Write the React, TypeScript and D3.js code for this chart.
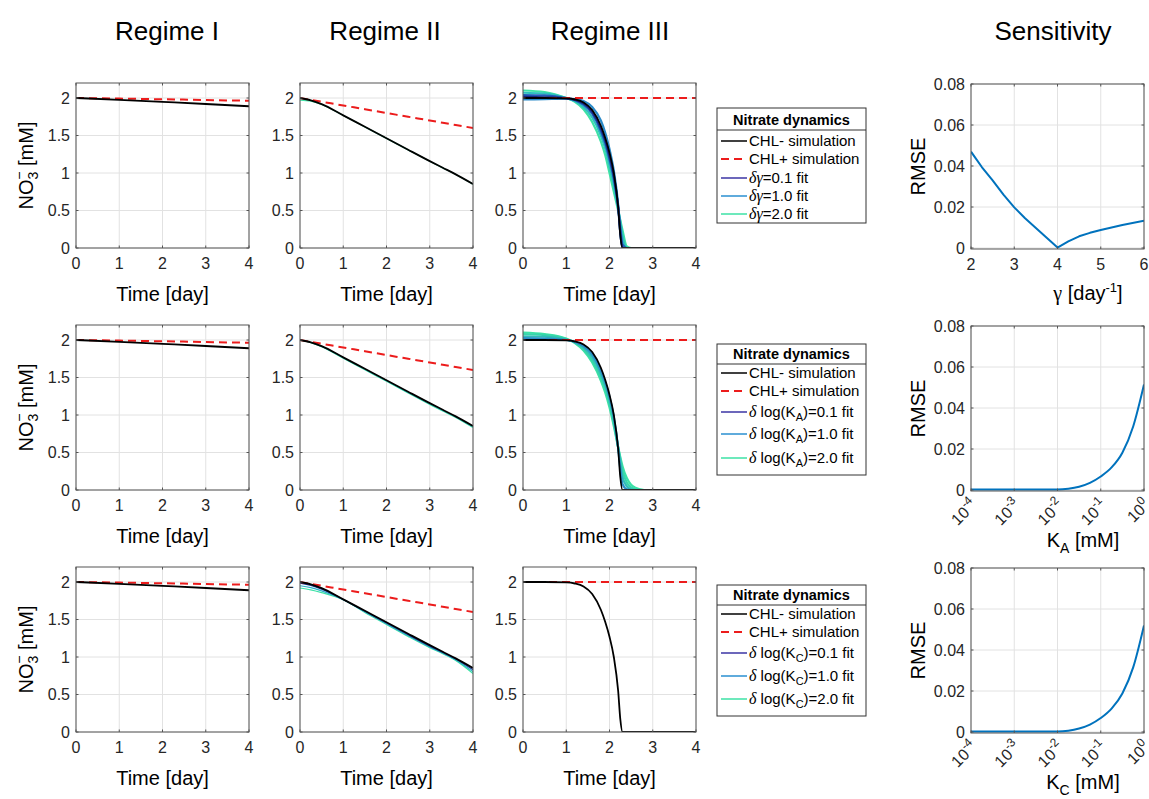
import React from 'react';
import * as d3 from 'd3';

const W = 1149, H = 799;
const FONT = '"Liberation Sans", Arial, Helvetica, sans-serif';
const SERIF = '"Liberation Serif", "DejaVu Serif", serif';

// ---------------- DATA ----------------
const TITLES = ['Regime I', 'Regime II', 'Regime III', 'Sensitivity'];
const REGIME_X_TICKS = [0, 1, 2, 3, 4];
const REGIME_Y_TICKS = [0, 0.5, 1, 1.5, 2];
const SENS_Y_TICKS = [0, 0.02, 0.04, 0.06, 0.08];
const GAMMA_TICKS = [2, 3, 4, 5, 6];
const K_TICKS = [1e-4, 1e-3, 1e-2, 1e-1, 1];
const K_TICK_EXP = ['-4', '-3', '-2', '-1', '0'];

// Regime I
const TIME_I = [0, 1, 2, 3, 4];
const I_CHLM = [2.0, 1.975, 1.948, 1.92, 1.89];
const I_CHLP = [2.0, 1.992, 1.983, 1.973, 1.963];

// Regime II
const TIME_II = [0, 0.25, 0.5, 1, 1.5, 2, 2.5, 3, 3.3, 3.6, 4];
const II_CHLM = [2.0, 1.968, 1.918, 1.768, 1.616, 1.464, 1.31, 1.158, 1.07, 0.982, 0.853];
const II_CHLP = [2.0, 1.975, 1.95, 1.9, 1.85, 1.8, 1.75, 1.7, 1.67, 1.64, 1.6];
const II_FIT_G_GREEN = [1.972, 1.958, 1.914, 1.766, 1.614, 1.462, 1.308, 1.156, 1.068, 0.98, 0.851];
const II_FIT_KA_GREEN = [2.0, 1.964, 1.91, 1.758, 1.603, 1.449, 1.293, 1.14, 1.054, 0.967, 0.832];
const II_FIT_KA_TEAL = [2.0, 1.966, 1.914, 1.763, 1.609, 1.456, 1.301, 1.149, 1.062, 0.974, 0.842];
const II_FIT_KC_GREEN = [1.92, 1.895, 1.858, 1.763, 1.594, 1.434, 1.275, 1.125, 1.045, 0.955, 0.78];
const II_FIT_KC_TEAL = [1.95, 1.925, 1.882, 1.765, 1.602, 1.444, 1.286, 1.135, 1.053, 0.964, 0.805];
const II_FIT_KC_BLUE = [1.985, 1.955, 1.905, 1.767, 1.609, 1.453, 1.296, 1.145, 1.061, 0.973, 0.83];

// Regime III
const TIME_III = [0, 0.5, 1.0, 1.2, 1.4, 1.6, 1.8, 1.9, 2.0, 2.1, 2.2, 2.25, 2.3, 2.4, 2.5, 2.6, 2.8, 3.0, 4.0];
const III_CHLM = [2.0, 2.0, 1.995, 1.98, 1.94, 1.84, 1.63, 1.47, 1.27, 1.0, 0.55, 0.17, 0, 0, 0, 0, 0, 0, 0];
const TIME_III_P = [0, 4];
const III_CHLP = [2.0, 2.0];
const III_FIT_G1 = [2.1, 2.08, 2.0, 1.95, 1.85, 1.68, 1.42, 1.24, 1.0, 0.75, 0.5, 0.37, 0.24, 0.02, 0, 0, 0, 0, 0];
const III_FIT_G2 = [2.07, 2.06, 2.0, 1.96, 1.88, 1.74, 1.5, 1.33, 1.1, 0.84, 0.53, 0.35, 0.16, 0, 0, 0, 0, 0, 0];
const III_FIT_G3 = [2.04, 2.035, 1.998, 1.97, 1.91, 1.79, 1.56, 1.4, 1.18, 0.92, 0.55, 0.27, 0.05, 0, 0, 0, 0, 0, 0];
const III_FIT_G4 = [2.015, 2.01, 1.996, 1.978, 1.93, 1.82, 1.6, 1.44, 1.23, 0.96, 0.55, 0.2, 0, 0, 0, 0, 0, 0, 0];
const III_FIT_G5 = [1.98, 1.985, 1.99, 1.985, 1.96, 1.88, 1.7, 1.54, 1.32, 1.03, 0.58, 0.2, 0, 0, 0, 0, 0, 0, 0];
const III_FIT_K1 = [2.1, 2.08, 2.02, 1.96, 1.86, 1.7, 1.46, 1.3, 1.1, 0.85, 0.57, 0.44, 0.32, 0.16, 0.07, 0.03, 0, 0, 0];
const III_FIT_K2 = [2.08, 2.065, 2.012, 1.965, 1.88, 1.73, 1.5, 1.35, 1.15, 0.89, 0.57, 0.41, 0.26, 0.1, 0.035, 0.01, 0, 0, 0];
const III_FIT_K3 = [2.05, 2.045, 2.005, 1.97, 1.9, 1.77, 1.55, 1.4, 1.2, 0.94, 0.565, 0.36, 0.18, 0.05, 0.01, 0, 0, 0, 0];
const III_FIT_K4 = [2.025, 2.02, 2.0, 1.975, 1.92, 1.81, 1.59, 1.44, 1.24, 0.97, 0.56, 0.28, 0.08, 0.01, 0, 0, 0, 0, 0];

// Sensitivity
const GAMMA = [2, 2.25, 2.5, 2.75, 3, 3.25, 3.5, 3.75, 4, 4.25, 4.5, 4.75, 5, 5.5, 6];
const RMSE_GAMMA = [0.047, 0.0395, 0.033, 0.026, 0.0198, 0.0145, 0.0098, 0.005, 0.0002, 0.0032, 0.0057, 0.0074, 0.0088, 0.0112, 0.0133];
const KX = [1e-4, 1e-3, 1e-2, 0.0178, 0.0316, 0.0562, 0.1, 0.178, 0.316, 0.562, 1];
const RMSE_KA = [0.0003, 0.0003, 0.0002, 0.0006, 0.0016, 0.0035, 0.0066, 0.011, 0.0182, 0.031, 0.0515];
const RMSE_KC = [0.0003, 0.0003, 0.0002, 0.0006, 0.0017, 0.0036, 0.0068, 0.0114, 0.0188, 0.0315, 0.052];

// ---------------- STYLE / LAYOUT ----------------
const COL_X = [76, 300, 523];
const ROW_Y = [83, 325, 567];
const PW = 173, PH = 165;
const SENS_X = 971;
const C_BLACK = '#000000';
const C_RED = '#ec1c1c';
const C_BLUE = '#0072BD';
const C01 = '#3b34a5';
const C10 = '#2a8fd0';
const C20 = '#3de2a6';
const GRID = '#e2e2e2';
const AXIS = '#555555';

type Series = { x: number[]; y: number[]; color: string; width: number; dash?: string; curve?: any };

function pathOf(s: Series, xs: any, ys: any) {
  const pts = s.x.map((v, i) => [v, s.y[i]] as [number, number]);
  return d3.line<[number, number]>()
    .x(d => xs(d[0]))
    .y(d => ys(d[1]))
    .curve(s.curve || d3.curveMonotoneX)(pts) || '';
}

function Panel(props: any) {
  const { id, x0, y0, xs, ys, xTicks, yTicks, yFmt, logX, series } = props;
  const w = PW, h = PH;
  const x1 = x0 + w, y1 = y0 + h;
  const tl = 2.5;
  return (
    <g>
      <defs>
        <clipPath id={id}><rect x={x0} y={y0} width={w} height={h} /></clipPath>
      </defs>
      <rect x={x0} y={y0} width={w} height={h} fill="#fff" />
      {xTicks.map((t: number, i: number) => (
        <line key={'gx' + i} x1={xs(t)} x2={xs(t)} y1={y0} y2={y1} stroke={GRID} strokeWidth={1} />
      ))}
      {yTicks.map((t: number, i: number) => (
        <line key={'gy' + i} x1={x0} x2={x1} y1={ys(t)} y2={ys(t)} stroke={GRID} strokeWidth={1} />
      ))}
      <g clipPath={`url(#${id})`}>
        {series.map((s: Series, i: number) => (
          <path key={i} d={pathOf(s, xs, ys)} fill="none" stroke={s.color} strokeWidth={s.width}
            strokeDasharray={s.dash} strokeLinejoin="round" />
        ))}
      </g>
      <rect x={x0} y={y0} width={w} height={h} fill="none" stroke={AXIS} strokeWidth={1} />
      {xTicks.map((t: number, i: number) => (
        <g key={'tx' + i}>
          <line x1={xs(t)} x2={xs(t)} y1={y1} y2={y1 - tl} stroke={AXIS} />
          <line x1={xs(t)} x2={xs(t)} y1={y0} y2={y0 + tl} stroke={AXIS} />
        </g>
      ))}
      {yTicks.map((t: number, i: number) => (
        <g key={'ty' + i}>
          <line x1={x0} x2={x0 + tl} y1={ys(t)} y2={ys(t)} stroke={AXIS} />
          <line x1={x1} x2={x1 - tl} y1={ys(t)} y2={ys(t)} stroke={AXIS} />
        </g>
      ))}
      {yTicks.map((t: number, i: number) => (
        <text key={'ly' + i} x={x0 - 6} y={ys(t) + 5.5} textAnchor="end" fontSize={16} fill="#262626">{yFmt(t)}</text>
      ))}
      {!logX && xTicks.map((t: number, i: number) => (
        <text key={'lx' + i} x={xs(t)} y={y1 + 21} textAnchor="middle" fontSize={16} fill="#262626">{String(t)}</text>
      ))}
      {logX && xTicks.map((t: number, i: number) => (
        <text key={'lx' + i} transform={`translate(${xs(t) + 7},${y1 + 15}) rotate(-45)`} textAnchor="end" fontSize={16} fill="#262626">
          10<tspan dy={-7} fontSize={12}>{K_TICK_EXP[i]}</tspan>
        </text>
      ))}
    </g>
  );
}

function Legend(props: any) {
  const { x, y, h, sep, titleY, entries } = props;
  const w = 149;
  return (
    <g>
      <rect x={x} y={y} width={w} height={h} fill="#fff" stroke="#333" strokeWidth={1} />
      <line x1={x} x2={x + w} y1={y + sep} y2={y + sep} stroke="#333" strokeWidth={1} />
      <text x={x + w / 2} y={y + titleY} textAnchor="middle" fontSize={14.5} fontWeight="bold" fill="#000">Nitrate dynamics</text>
      {entries.map((e: any, i: number) => (
        <g key={i}>
          <line x1={x + 4} x2={x + 30} y1={y + e.cy} y2={y + e.cy} stroke={e.color}
            strokeWidth={e.dash ? 2 : 1.5} strokeDasharray={e.dash ? '8,5' : undefined} />
          <text x={x + 32} y={y + e.cy + 5} fontSize={15} fill="#000">{e.label}</text>
        </g>
      ))}
    </g>
  );
}

const dg = (v: string) => (<><tspan fontFamily={SERIF} fontStyle="italic" fontSize={16}>δγ</tspan>={v} fit</>);
const dk = (sub: string, v: string) => (
  <><tspan fontFamily={SERIF} fontStyle="italic" fontSize={16}>δ</tspan> log(K<tspan dy={4} fontSize={11}>{sub}</tspan><tspan dy={-4}>)={v} fit</tspan></>
);

export default function App() {
  const fmtY = (t: number) => String(t);
  const fmtS = (t: number) => (t === 0 ? '0' : t.toFixed(2));
  const panels: any[] = [];

  const rowFitsIII = [
    [
      { y: III_FIT_G1, c: C20 }, { y: III_FIT_G5, c: '#2a8ac8' }, { y: III_FIT_G2, c: '#2cbfbf' },
      { y: III_FIT_G3, c: '#1d5fb8' }, { y: III_FIT_G4, c: '#1a2585' },
    ],
    [
      { y: III_FIT_K1, c: C20 }, { y: III_FIT_K2, c: '#37d6aa' }, { y: III_FIT_K3, c: '#30bdb6' },
      { y: III_FIT_K4, c: '#2a8fc8' },
    ],
    [],
  ];
  const rowFitsII = [
    [{ y: II_FIT_G_GREEN, c: C20 }],
    [{ y: II_FIT_KA_GREEN, c: C20 }, { y: II_FIT_KA_TEAL, c: '#2cc0c0' }],
    [{ y: II_FIT_KC_GREEN, c: C20 }, { y: II_FIT_KC_TEAL, c: '#2cb0c8' }, { y: II_FIT_KC_BLUE, c: '#1c3a9a' }],
  ];

  for (let r = 0; r < 3; r++) {
    for (let c = 0; c < 3; c++) {
      const x0 = COL_X[c], y0 = ROW_Y[r];
      const xs = d3.scaleLinear().domain([0, 4]).range([x0, x0 + PW]);
      const ys = d3.scaleLinear().domain([0, 2.2]).range([y0 + PH, y0]);
      let series: Series[] = [];
      if (c === 0) {
        series = [
          { x: TIME_I, y: I_CHLP, color: C_RED, width: 2, dash: '8,5' },
          { x: TIME_I, y: I_CHLM, color: C_BLACK, width: 1.8 },
        ];
      } else if (c === 1) {
        series = [
          ...rowFitsII[r].map(f => ({ x: TIME_II, y: f.y, color: f.c, width: 1.2 })),
          { x: TIME_II, y: II_CHLP, color: C_RED, width: 2, dash: '8,5' },
          { x: TIME_II, y: II_CHLM, color: C_BLACK, width: 1.8 },
        ];
      } else {
        series = [
          ...rowFitsIII[r].map(f => ({ x: TIME_III, y: f.y, color: f.c, width: 2.2 })),
          { x: TIME_III_P, y: III_CHLP, color: C_RED, width: 2, dash: '8,5' },
          { x: TIME_III, y: III_CHLM, color: C_BLACK, width: 1.8 },
        ];
      }
      panels.push(
        <Panel key={`p${r}${c}`} id={`clip${r}${c}`} x0={x0} y0={y0} xs={xs} ys={ys}
          xTicks={REGIME_X_TICKS} yTicks={REGIME_Y_TICKS} yFmt={fmtY} series={series} />
      );
      panels.push(
        <text key={`xl${r}${c}`} x={x0 + PW / 2} y={y0 + PH + 53} textAnchor="middle" fontSize={20} fill="#000">Time [day]</text>
      );
    }
    const cy = ROW_Y[r] + PH / 2;
    panels.push(
      <text key={`yl${r}`} transform={`translate(33,${cy}) rotate(-90)`} textAnchor="middle" fontSize={20} fill="#000">
        NO<tspan dy={5} fontSize={14}>3</tspan><tspan dx={-8} dy={-14} fontSize={14}>−</tspan><tspan dy={9}> [mM]</tspan>
      </text>
    );
    const sy0 = ROW_Y[r] + 1;
    const ys = d3.scaleLinear().domain([0, 0.08]).range([sy0 + PH - 1, sy0]);
    if (r === 0) {
      const xs = d3.scaleLinear().domain([2, 6]).range([SENS_X, SENS_X + PW]);
      panels.push(
        <Panel key={`s${r}`} id={`sclip${r}`} x0={SENS_X} y0={sy0} xs={xs} ys={ys}
          xTicks={GAMMA_TICKS} yTicks={SENS_Y_TICKS} yFmt={fmtS}
          series={[{ x: GAMMA, y: RMSE_GAMMA, color: C_BLUE, width: 2, curve: d3.curveLinear }]} />
      );
    } else {
      const xs = d3.scaleLog().domain([1e-4, 1]).range([SENS_X, SENS_X + PW]);
      panels.push(
        <Panel key={`s${r}`} id={`sclip${r}`} x0={SENS_X} y0={sy0} xs={xs} ys={ys} logX
          xTicks={K_TICKS} yTicks={SENS_Y_TICKS} yFmt={fmtS}
          series={[{ x: KX, y: r === 1 ? RMSE_KA : RMSE_KC, color: C_BLUE, width: 2 }]} />
      );
    }
    panels.push(
      <text key={`rl${r}`} transform={`translate(925,${sy0 + PH / 2}) rotate(-90)`} textAnchor="middle" fontSize={20} fill="#000">RMSE</text>
    );
  }

  const legendBase = [
    { label: 'CHL- simulation', color: C_BLACK },
    { label: 'CHL+ simulation', color: C_RED, dash: true },
  ];

  return (
    <svg width={W} height={H} style={{ position: 'absolute', left: 0, top: 0, background: '#fff' }}
      fontFamily={FONT}>
      <rect x={0} y={0} width={W} height={H} fill="#fff" />
      {TITLES.map((t, i) => (
        <text key={t} x={[167, 385, 610, 1053][i]} y={40} textAnchor="middle" fontSize={26} fill="#000">{t}</text>
      ))}
      {panels}
      <text x={1088} y={300} textAnchor="middle" fontSize={20} fill="#000">
        <tspan fontFamily={SERIF}>γ</tspan> [day<tspan dy={-8} fontSize={13}>-1</tspan><tspan dy={8}>]</tspan>
      </text>
      <text x={1083} y={547} textAnchor="middle" fontSize={20} fill="#000">
        K<tspan dy={6} fontSize={14}>A</tspan><tspan dy={-6}> [mM]</tspan>
      </text>
      <text x={1083} y={789} textAnchor="middle" fontSize={20} fill="#000">
        K<tspan dy={6} fontSize={14}>C</tspan><tspan dy={-6}> [mM]</tspan>
      </text>
      <Legend x={717} y={108} h={115} sep={22} titleY={17}
        entries={[
          { ...legendBase[0], cy: 33 }, { ...legendBase[1], cy: 51 },
          { label: dg('0.1'), color: C01, cy: 70 }, { label: dg('1.0'), color: C10, cy: 88 },
          { label: dg('2.0'), color: C20, cy: 106 },
        ]} />
      <Legend x={717} y={344} h={131} sep={20} titleY={15}
        entries={[
          { ...legendBase[0], cy: 29 }, { ...legendBase[1], cy: 47 },
          { label: dk('A', '0.1'), color: C01, cy: 68 }, { label: dk('A', '1.0'), color: C10, cy: 90 },
          { label: dk('A', '2.0'), color: C20, cy: 114 },
        ]} />
      <Legend x={717} y={585} h={131} sep={20} titleY={15}
        entries={[
          { ...legendBase[0], cy: 29 }, { ...legendBase[1], cy: 47 },
          { label: dk('C', '0.1'), color: C01, cy: 68 }, { label: dk('C', '1.0'), color: C10, cy: 91 },
          { label: dk('C', '2.0'), color: C20, cy: 114 },
        ]} />
    </svg>
  );
}
